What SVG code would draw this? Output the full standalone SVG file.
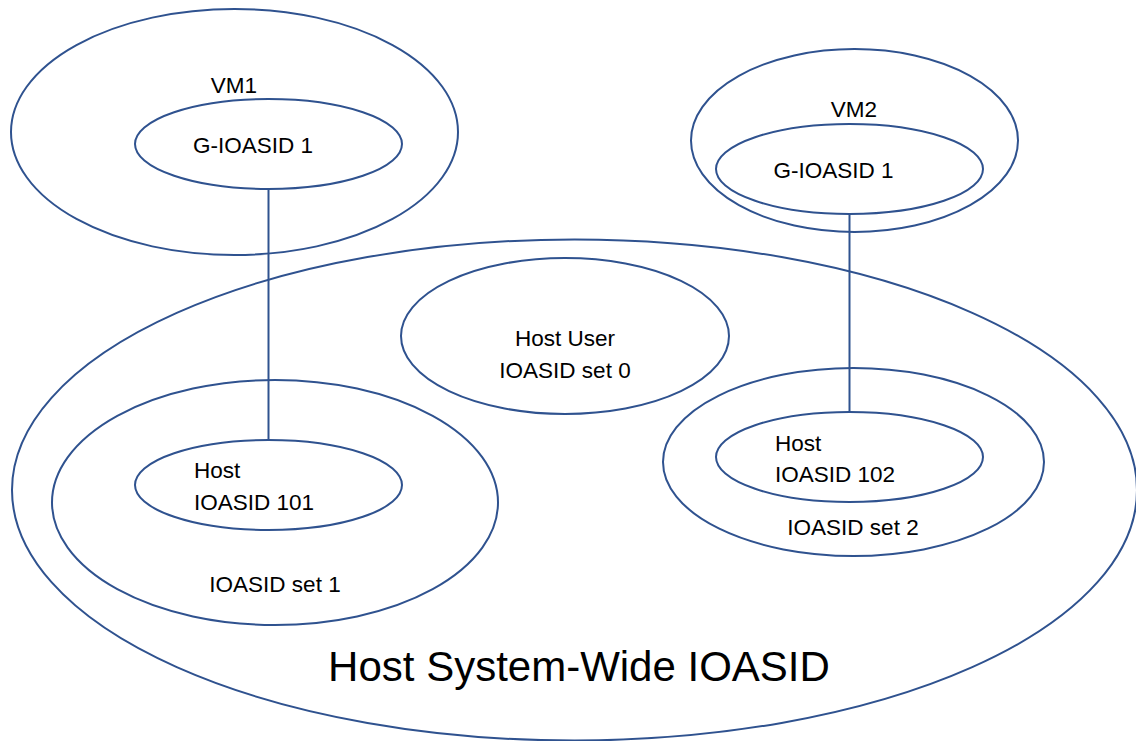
<svg xmlns="http://www.w3.org/2000/svg" width="1136" height="741" viewBox="0 0 1136 741">
  <style>
    .shape { fill: none; stroke: #2F528F; stroke-width: 2; }
    .link { fill: none; stroke: #2F528F; stroke-width: 2; }
    text { font-family: "Liberation Sans", Arial, sans-serif; fill: #000000; }
    .lbl { font-size: 22.5px; }
    .mid { text-anchor: middle; }
    .big { font-size: 42px; text-anchor: middle; }
  </style>
  <rect width="1136" height="741" fill="#ffffff"/>

  <!-- system-wide IOASID space -->
  <g id="host-system-wide">
    <ellipse class="shape" cx="574.5" cy="490" rx="562.5" ry="250.5"/>
    <text class="big" x="579" y="681">Host System-Wide IOASID</text>
  </g>

  <!-- guest VM1 -->
  <g id="vm1">
    <ellipse class="shape" cx="234.5" cy="132" rx="223.5" ry="123"/>
    <text class="lbl mid" x="234" y="93">VM1</text>
  </g>
  <g id="vm1-gioasid">
    <ellipse class="shape" cx="268.5" cy="144" rx="133.5" ry="45"/>
    <text class="lbl mid" x="253" y="153">G-IOASID 1</text>
  </g>

  <!-- guest VM2 -->
  <g id="vm2">
    <ellipse class="shape" cx="854.5" cy="140.5" rx="163.5" ry="91.5"/>
    <text class="lbl mid" x="854" y="117">VM2</text>
  </g>
  <g id="vm2-gioasid">
    <ellipse class="shape" cx="849.5" cy="169" rx="133.5" ry="45"/>
    <text class="lbl mid" x="833.5" y="178">G-IOASID 1</text>
  </g>

  <!-- host user set 0 -->
  <g id="set0">
    <ellipse class="shape" cx="565" cy="336" rx="164" ry="78"/>
    <text class="lbl mid" x="565" y="346">Host User</text>
    <text class="lbl mid" x="565" y="378">IOASID set 0</text>
  </g>

  <!-- set 1 with host IOASID 101 -->
  <g id="set1">
    <ellipse class="shape" cx="275" cy="502.5" rx="223" ry="122.5"/>
    <text class="lbl mid" x="275" y="592">IOASID set 1</text>
  </g>
  <g id="host-ioasid-101">
    <ellipse class="shape" cx="268.5" cy="485" rx="133.5" ry="45"/>
    <text class="lbl" x="194" y="478">Host</text>
    <text class="lbl" x="194" y="510">IOASID 101</text>
  </g>

  <!-- set 2 with host IOASID 102 -->
  <g id="set2">
    <ellipse class="shape" cx="853.5" cy="462" rx="190.5" ry="94"/>
    <text class="lbl mid" x="853" y="535">IOASID set 2</text>
  </g>
  <g id="host-ioasid-102">
    <ellipse class="shape" cx="849.5" cy="457" rx="133.5" ry="45"/>
    <text class="lbl" x="775" y="451">Host</text>
    <text class="lbl" x="775" y="482">IOASID 102</text>
  </g>

  <!-- guest-to-host IOASID bindings -->
  <g id="connectors">
    <line class="link" x1="268.5" y1="189" x2="268.5" y2="440"/>
    <line class="link" x1="849.5" y1="214" x2="849.5" y2="412"/>
  </g>
</svg>
